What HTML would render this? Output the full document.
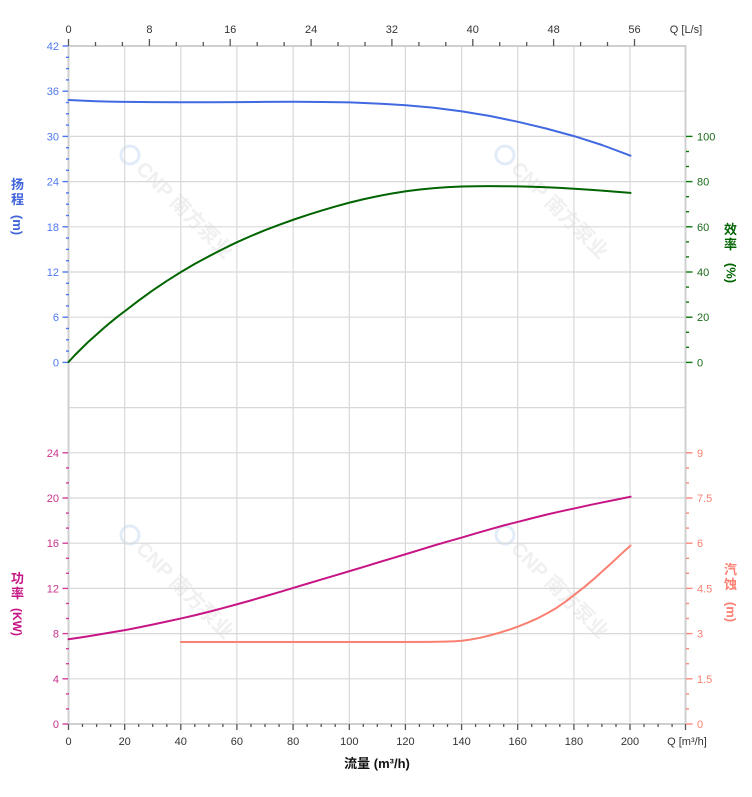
<!DOCTYPE html>
<html><head><meta charset="utf-8"><style>
html,body{margin:0;padding:0;background:#fff;}
svg{display:block;}
text{font-family:"Liberation Sans","Noto Sans CJK SC",sans-serif;}
</style></head><body>
<svg width="752" height="797" viewBox="0 0 752 797" xmlns="http://www.w3.org/2000/svg">
<!-- watermarks -->
<g>
<g transform="translate(130,155) rotate(45)"><circle cx="0" cy="0" r="9" fill="none" stroke="#e2ecf8" stroke-width="3"/><text x="14" y="7" font-size="20" font-weight="bold" fill="#f0f0f0">CNP 南方泵业</text></g>
<g transform="translate(505,155) rotate(45)"><circle cx="0" cy="0" r="9" fill="none" stroke="#e2ecf8" stroke-width="3"/><text x="14" y="7" font-size="20" font-weight="bold" fill="#f0f0f0">CNP 南方泵业</text></g>
<g transform="translate(130,535) rotate(45)"><circle cx="0" cy="0" r="9" fill="none" stroke="#e2ecf8" stroke-width="3"/><text x="14" y="7" font-size="20" font-weight="bold" fill="#f0f0f0">CNP 南方泵业</text></g>
<g transform="translate(505,535) rotate(45)"><circle cx="0" cy="0" r="9" fill="none" stroke="#e2ecf8" stroke-width="3"/><text x="14" y="7" font-size="20" font-weight="bold" fill="#f0f0f0">CNP 南方泵业</text></g>
</g>
<!-- horizontal grid -->
<g stroke="#d8d8d8" stroke-width="1.2">
<line x1="69" y1="91.2" x2="685" y2="91.2"/>
<line x1="69" y1="136.4" x2="685" y2="136.4"/>
<line x1="69" y1="181.6" x2="685" y2="181.6"/>
<line x1="69" y1="226.8" x2="685" y2="226.8"/>
<line x1="69" y1="272" x2="685" y2="272"/>
<line x1="69" y1="317.2" x2="685" y2="317.2"/>
<line x1="69" y1="362.4" x2="685" y2="362.4"/>
<line x1="69" y1="407.6" x2="685" y2="407.6"/>
<line x1="69" y1="452.8" x2="685" y2="452.8"/>
<line x1="69" y1="498" x2="685" y2="498"/>
<line x1="69" y1="543.2" x2="685" y2="543.2"/>
<line x1="69" y1="588.4" x2="685" y2="588.4"/>
<line x1="69" y1="633.6" x2="685" y2="633.6"/>
<line x1="69" y1="678.8" x2="685" y2="678.8"/>
</g>
<!-- vertical grid -->
<g stroke="#d8d8d8" stroke-width="1.2">
<line x1="124.7" y1="46" x2="124.7" y2="724"/>
<line x1="180.8" y1="46" x2="180.8" y2="724"/>
<line x1="236.9" y1="46" x2="236.9" y2="724"/>
<line x1="293.1" y1="46" x2="293.1" y2="724"/>
<line x1="349.3" y1="46" x2="349.3" y2="724"/>
<line x1="405.4" y1="46" x2="405.4" y2="724"/>
<line x1="461.6" y1="46" x2="461.6" y2="724"/>
<line x1="517.7" y1="46" x2="517.7" y2="724"/>
<line x1="573.9" y1="46" x2="573.9" y2="724"/>
<line x1="630" y1="46" x2="630" y2="724"/>
</g>
<!-- axis lines -->
<g stroke="#cfcfcf" stroke-width="2">
<line x1="68.5" y1="45" x2="68.5" y2="725"/>
<line x1="685.5" y1="45" x2="685.5" y2="725"/>
<line x1="68" y1="46" x2="686" y2="46"/>
<line x1="68" y1="724" x2="686" y2="724"/>
</g>
<!-- top ticks (L/s) -->
<g stroke="#555" stroke-width="1.3">
<line x1="68.5" y1="39" x2="68.5" y2="46"/><line x1="95.5" y1="42" x2="95.5" y2="46"/><line x1="122.4" y1="42" x2="122.4" y2="46"/>
<line x1="149.4" y1="39" x2="149.4" y2="46"/><line x1="176.3" y1="42" x2="176.3" y2="46"/><line x1="203.3" y1="42" x2="203.3" y2="46"/>
<line x1="230.2" y1="39" x2="230.2" y2="46"/><line x1="257.2" y1="42" x2="257.2" y2="46"/><line x1="284.1" y1="42" x2="284.1" y2="46"/>
<line x1="311.1" y1="39" x2="311.1" y2="46"/><line x1="338" y1="42" x2="338" y2="46"/><line x1="365" y1="42" x2="365" y2="46"/>
<line x1="391.9" y1="39" x2="391.9" y2="46"/><line x1="418.9" y1="42" x2="418.9" y2="46"/><line x1="445.8" y1="42" x2="445.8" y2="46"/>
<line x1="472.8" y1="39" x2="472.8" y2="46"/><line x1="499.7" y1="42" x2="499.7" y2="46"/><line x1="526.7" y1="42" x2="526.7" y2="46"/>
<line x1="553.6" y1="39" x2="553.6" y2="46"/><line x1="580.6" y1="42" x2="580.6" y2="46"/><line x1="607.5" y1="42" x2="607.5" y2="46"/>
<line x1="634.5" y1="39" x2="634.5" y2="46"/>
</g>
<g font-size="11" fill="#333" text-anchor="middle">
<text x="68.5" y="33">0</text><text x="149.4" y="33">8</text><text x="230.2" y="33">16</text><text x="311.1" y="33">24</text>
<text x="391.9" y="33">32</text><text x="472.8" y="33">40</text><text x="553.6" y="33">48</text><text x="634.5" y="33">56</text>
<text x="686" y="33">Q [L/s]</text>
</g>
<!-- bottom ticks (m3/h) -->
<g stroke="#555" stroke-width="1.3">
<line x1="68.5" y1="724" x2="68.5" y2="730"/><line x1="82.5" y1="724" x2="82.5" y2="727"/><line x1="96.6" y1="724" x2="96.6" y2="727"/><line x1="110.6" y1="724" x2="110.6" y2="727"/>
<line x1="124.7" y1="724" x2="124.7" y2="730"/><line x1="138.7" y1="724" x2="138.7" y2="727"/><line x1="152.7" y1="724" x2="152.7" y2="727"/><line x1="166.8" y1="724" x2="166.8" y2="727"/>
<line x1="180.8" y1="724" x2="180.8" y2="730"/><line x1="194.8" y1="724" x2="194.8" y2="727"/><line x1="208.9" y1="724" x2="208.9" y2="727"/><line x1="222.9" y1="724" x2="222.9" y2="727"/>
<line x1="236.9" y1="724" x2="236.9" y2="730"/><line x1="251" y1="724" x2="251" y2="727"/><line x1="265" y1="724" x2="265" y2="727"/><line x1="279.1" y1="724" x2="279.1" y2="727"/>
<line x1="293.1" y1="724" x2="293.1" y2="730"/><line x1="307.1" y1="724" x2="307.1" y2="727"/><line x1="321.2" y1="724" x2="321.2" y2="727"/><line x1="335.2" y1="724" x2="335.2" y2="727"/>
<line x1="349.3" y1="724" x2="349.3" y2="730"/><line x1="363.3" y1="724" x2="363.3" y2="727"/><line x1="377.3" y1="724" x2="377.3" y2="727"/><line x1="391.4" y1="724" x2="391.4" y2="727"/>
<line x1="405.4" y1="724" x2="405.4" y2="730"/><line x1="419.4" y1="724" x2="419.4" y2="727"/><line x1="433.5" y1="724" x2="433.5" y2="727"/><line x1="447.5" y1="724" x2="447.5" y2="727"/>
<line x1="461.6" y1="724" x2="461.6" y2="730"/><line x1="475.6" y1="724" x2="475.6" y2="727"/><line x1="489.6" y1="724" x2="489.6" y2="727"/><line x1="503.7" y1="724" x2="503.7" y2="727"/>
<line x1="517.7" y1="724" x2="517.7" y2="730"/><line x1="531.7" y1="724" x2="531.7" y2="727"/><line x1="545.8" y1="724" x2="545.8" y2="727"/><line x1="559.8" y1="724" x2="559.8" y2="727"/>
<line x1="573.9" y1="724" x2="573.9" y2="730"/><line x1="587.9" y1="724" x2="587.9" y2="727"/><line x1="601.9" y1="724" x2="601.9" y2="727"/><line x1="616" y1="724" x2="616" y2="727"/>
<line x1="630" y1="724" x2="630" y2="730"/><line x1="644" y1="724" x2="644" y2="727"/><line x1="658.1" y1="724" x2="658.1" y2="727"/><line x1="672.1" y1="724" x2="672.1" y2="727"/>
<line x1="685.5" y1="724" x2="685.5" y2="730"/>
</g>
<g font-size="11" fill="#333" text-anchor="middle">
<text x="68.5" y="745">0</text><text x="124.7" y="745">20</text><text x="180.8" y="745">40</text><text x="236.9" y="745">60</text>
<text x="293.1" y="745">80</text><text x="349.3" y="745">100</text><text x="405.4" y="745">120</text><text x="461.6" y="745">140</text>
<text x="517.7" y="745">160</text><text x="573.9" y="745">180</text><text x="630" y="745">200</text>
<text x="687" y="745">Q [m³/h]</text>
</g>
<text x="377" y="768" font-size="13" font-weight="bold" fill="#111" text-anchor="middle">流量 (m³/h)</text>
<!-- head axis (left, top) -->
<g stroke="#4f78ee" stroke-width="1.4">
<line x1="62.5" y1="46" x2="68" y2="46"/><line x1="66" y1="57.3" x2="69" y2="57.3"/><line x1="66" y1="68.6" x2="69" y2="68.6"/><line x1="66" y1="79.9" x2="69" y2="79.9"/>
<line x1="62.5" y1="91.2" x2="68" y2="91.2"/><line x1="66" y1="102.5" x2="69" y2="102.5"/><line x1="66" y1="113.8" x2="69" y2="113.8"/><line x1="66" y1="125.1" x2="69" y2="125.1"/>
<line x1="62.5" y1="136.4" x2="68" y2="136.4"/><line x1="66" y1="147.7" x2="69" y2="147.7"/><line x1="66" y1="159" x2="69" y2="159"/><line x1="66" y1="170.3" x2="69" y2="170.3"/>
<line x1="62.5" y1="181.6" x2="68" y2="181.6"/><line x1="66" y1="192.9" x2="69" y2="192.9"/><line x1="66" y1="204.2" x2="69" y2="204.2"/><line x1="66" y1="215.5" x2="69" y2="215.5"/>
<line x1="62.5" y1="226.8" x2="68" y2="226.8"/><line x1="66" y1="238.1" x2="69" y2="238.1"/><line x1="66" y1="249.4" x2="69" y2="249.4"/><line x1="66" y1="260.7" x2="69" y2="260.7"/>
<line x1="62.5" y1="272" x2="68" y2="272"/><line x1="66" y1="283.3" x2="69" y2="283.3"/><line x1="66" y1="294.6" x2="69" y2="294.6"/><line x1="66" y1="305.9" x2="69" y2="305.9"/>
<line x1="62.5" y1="317.2" x2="68" y2="317.2"/><line x1="66" y1="328.5" x2="69" y2="328.5"/><line x1="66" y1="339.8" x2="69" y2="339.8"/><line x1="66" y1="351.1" x2="69" y2="351.1"/>
<line x1="62.5" y1="362.4" x2="68" y2="362.4"/>
</g>
<g font-size="11" fill="#4f78ee" text-anchor="end">
<text x="59" y="50">42</text><text x="59" y="95.2">36</text><text x="59" y="140.4">30</text><text x="59" y="185.6">24</text>
<text x="59" y="230.8">18</text><text x="59" y="276">12</text><text x="59" y="321.2">6</text><text x="59" y="366.4">0</text>
</g>
<g fill="#3f63d8" font-size="13" font-weight="bold" text-anchor="middle">
<text x="17.5" y="189">扬</text><text x="17.5" y="204">程</text>
<text transform="translate(13,225) rotate(90)" text-anchor="middle" font-size="13">(m)</text>
</g>
<!-- efficiency axis (right, top) -->
<g stroke="#0a7a0a" stroke-width="1.4">
<line x1="686" y1="136.4" x2="692.5" y2="136.4"/><line x1="686" y1="151.5" x2="689" y2="151.5"/><line x1="686" y1="166.5" x2="689" y2="166.5"/>
<line x1="686" y1="181.6" x2="692.5" y2="181.6"/><line x1="686" y1="196.7" x2="689" y2="196.7"/><line x1="686" y1="211.7" x2="689" y2="211.7"/>
<line x1="686" y1="226.8" x2="692.5" y2="226.8"/><line x1="686" y1="241.9" x2="689" y2="241.9"/><line x1="686" y1="256.9" x2="689" y2="256.9"/>
<line x1="686" y1="272" x2="692.5" y2="272"/><line x1="686" y1="287.1" x2="689" y2="287.1"/><line x1="686" y1="302.1" x2="689" y2="302.1"/>
<line x1="686" y1="317.2" x2="692.5" y2="317.2"/><line x1="686" y1="332.3" x2="689" y2="332.3"/><line x1="686" y1="347.3" x2="689" y2="347.3"/>
<line x1="686" y1="362.4" x2="692.5" y2="362.4"/>
</g>
<g font-size="11" fill="#1a6a1a" text-anchor="start">
<text x="697" y="140.4">100</text><text x="697" y="185.6">80</text><text x="697" y="230.8">60</text>
<text x="697" y="276">40</text><text x="697" y="321.2">20</text><text x="697" y="366.4">0</text>
</g>
<g fill="#006400" font-size="13" font-weight="bold" text-anchor="middle">
<text x="730.5" y="234">效</text><text x="730.5" y="249">率</text>
<text transform="translate(726.5,273) rotate(90)" text-anchor="middle" font-size="13">(%)</text>
</g>
<!-- power axis (left, bottom) -->
<g stroke="#d0409a" stroke-width="1.4">
<line x1="62.5" y1="452.8" x2="68" y2="452.8"/><line x1="66" y1="467.9" x2="69" y2="467.9"/><line x1="66" y1="482.9" x2="69" y2="482.9"/>
<line x1="62.5" y1="498" x2="68" y2="498"/><line x1="66" y1="513.1" x2="69" y2="513.1"/><line x1="66" y1="528.1" x2="69" y2="528.1"/>
<line x1="62.5" y1="543.2" x2="68" y2="543.2"/><line x1="66" y1="558.3" x2="69" y2="558.3"/><line x1="66" y1="573.3" x2="69" y2="573.3"/>
<line x1="62.5" y1="588.4" x2="68" y2="588.4"/><line x1="66" y1="603.5" x2="69" y2="603.5"/><line x1="66" y1="618.5" x2="69" y2="618.5"/>
<line x1="62.5" y1="633.6" x2="68" y2="633.6"/><line x1="66" y1="648.7" x2="69" y2="648.7"/><line x1="66" y1="663.7" x2="69" y2="663.7"/>
<line x1="62.5" y1="678.8" x2="68" y2="678.8"/><line x1="66" y1="693.9" x2="69" y2="693.9"/><line x1="66" y1="708.9" x2="69" y2="708.9"/>
<line x1="62.5" y1="724" x2="68" y2="724"/>
</g>
<g font-size="11" fill="#c8338e" text-anchor="end">
<text x="59" y="456.8">24</text><text x="59" y="502">20</text><text x="59" y="547.2">16</text><text x="59" y="592.4">12</text>
<text x="59" y="637.6">8</text><text x="59" y="682.8">4</text><text x="59" y="728">0</text>
</g>
<g fill="#c71585" font-size="13" font-weight="bold" text-anchor="middle">
<text x="17.5" y="583">功</text><text x="17.5" y="598">率</text>
<text transform="translate(13,622) rotate(90)" text-anchor="middle" font-size="12">(KW)</text>
</g>
<!-- NPSH axis (right, bottom) -->
<g stroke="#f88a7a" stroke-width="1.4">
<line x1="686" y1="452.8" x2="692.5" y2="452.8"/><line x1="686" y1="467.9" x2="689" y2="467.9"/><line x1="686" y1="482.9" x2="689" y2="482.9"/>
<line x1="686" y1="498" x2="692.5" y2="498"/><line x1="686" y1="513.1" x2="689" y2="513.1"/><line x1="686" y1="528.1" x2="689" y2="528.1"/>
<line x1="686" y1="543.2" x2="692.5" y2="543.2"/><line x1="686" y1="558.3" x2="689" y2="558.3"/><line x1="686" y1="573.3" x2="689" y2="573.3"/>
<line x1="686" y1="588.4" x2="692.5" y2="588.4"/><line x1="686" y1="603.5" x2="689" y2="603.5"/><line x1="686" y1="618.5" x2="689" y2="618.5"/>
<line x1="686" y1="633.6" x2="692.5" y2="633.6"/><line x1="686" y1="648.7" x2="689" y2="648.7"/><line x1="686" y1="663.7" x2="689" y2="663.7"/>
<line x1="686" y1="678.8" x2="692.5" y2="678.8"/><line x1="686" y1="693.9" x2="689" y2="693.9"/><line x1="686" y1="708.9" x2="689" y2="708.9"/>
<line x1="686" y1="724" x2="692.5" y2="724"/>
</g>
<g font-size="11" fill="#f88070" text-anchor="start">
<text x="697" y="456.8">9</text><text x="697" y="502">7.5</text><text x="697" y="547.2">6</text><text x="697" y="592.4">4.5</text>
<text x="697" y="637.6">3</text><text x="697" y="682.8">1.5</text><text x="697" y="728">0</text>
</g>
<g fill="#fa8072" font-size="13" font-weight="bold" text-anchor="middle">
<text x="730.5" y="574">汽</text><text x="730.5" y="589">蚀</text>
<text transform="translate(726.5,612) rotate(90)" text-anchor="middle" font-size="13">(m)</text>
</g>
<!-- curves -->
<polyline fill="none" stroke="#4169e1" stroke-width="2" stroke-linejoin="round" stroke-linecap="round"
 points="68.5,100 82,100.6 96,101.2 110,101.6 125,101.9 153,102.1 181,102.2 209,102.2 237,102.1 265,101.9 294,101.8 322,102 350,102.4 378,103.6 406,105.3 434,107.8 462,111.4 490,116 518,121.8 546,128.5 574,136.1 602,145 630.5,155.7"/>
<polyline fill="none" stroke="#006400" stroke-width="2" stroke-linejoin="round" stroke-linecap="round"
 points="68.5,362 75,355 82,348 89,341.2 96,335 103,328.8 110,322.8 117.5,316.7 125,311 139,300.3 153,290.2 167,280.8 181,272 195,263.8 209,256.2 223,249 237,242.2 251,236 265,230.2 279.5,224.7 294,219.5 308,214.8 322,210.4 336,206.3 350,202.5 364,199.1 378,196.1 392,193.5 406,191.3 420,189.5 434,188.1 448,187.1 462,186.5 476,186.2 490,186.1 504,186.2 518,186.4 532,186.8 546,187.3 560,187.9 574,188.7 588,189.6 602,190.6 616,191.7 630.5,192.9"/>
<polyline fill="none" stroke="#c71585" stroke-width="2" stroke-linejoin="round" stroke-linecap="round"
 points="68.5,639.3 82,637.3 96,635 110,632.6 125.6,630 139,627.4 153,624.5 167,621.5 181.6,618.3 196,615 210,611.5 224,607.8 238,604 252,600.1 266,596 280,591.9 294,587.7 308,583.5 322,579.3 336,575.2 350,571 364,566.8 378,562.5 392,558.3 406.3,554 420,549.8 434,545.5 448,541.4 462.7,537.3 476,533.3 490,529.3 504,525.4 518.7,521.7 533,518 547,514.5 561,511.3 575,508.3 589,505.2 603,502.3 617,499.5 630.6,496.7"/>
<polyline fill="none" stroke="#fa8072" stroke-width="2" stroke-linejoin="round" stroke-linecap="round"
 points="181,642 300,642 400,642 430,641.9 445,641.6 455,641.2 462,640.7 470,639.6 480,637.8 490,635.4 500,632.6 510,629.4 519,626.2 528,622.6 537,618.6 547,613.4 556,608.2 566,601.3 575,594.3 584,587.3 593,579.7 603,570.8 612,562.6 621,554.2 630.6,545.5"/>
</svg>
</body></html>
